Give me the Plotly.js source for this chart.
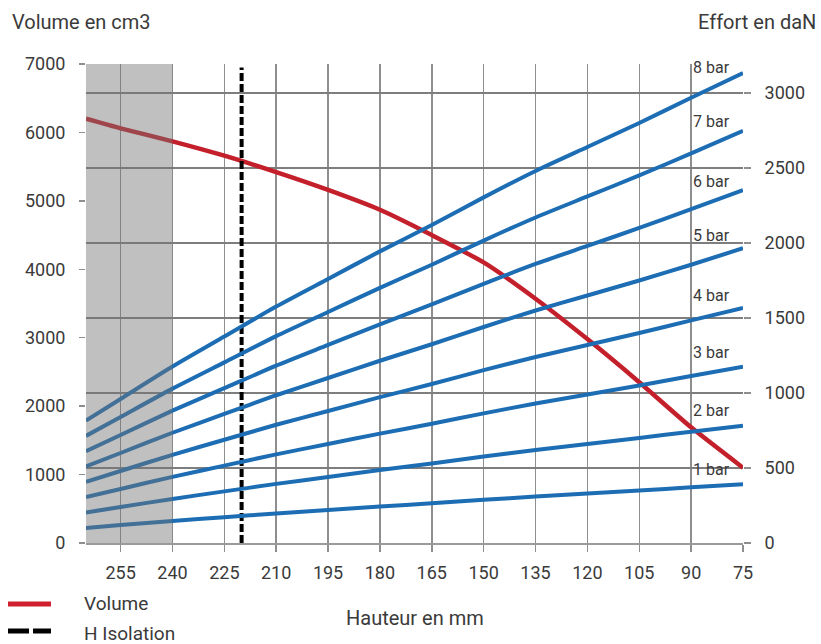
<!DOCTYPE html>
<html>
<head>
<meta charset="utf-8">
<script src="https://cdn.plot.ly/plotly-3.0.1.min.js"></script>
<style>html,body{margin:0;padding:0;background:#fff;}#chart{width:821px;height:644px;}</style>
</head>
<body>
<div id="chart"></div>
<script>
// Heights (mm), reversed axis
const heights = [265, 255, 240, 225, 210, 195, 180, 165, 150, 135, 120, 105, 90, 75];
// Volume (cm3), left axis
const volume = [6200, 6060, 5870, 5660, 5420, 5160, 4870, 4500, 4100, 3570, 2980, 2350, 1690, 1100];
// Effort (daN) per pressure, right axis
const effort1bar = [100, 120, 147, 172, 197, 220, 243, 265, 288, 310, 330, 350, 371, 392];
const effort2bar = [204, 240, 294, 344, 394, 440, 486, 530, 576, 620, 660, 700, 742, 782];
const effort3bar = [306, 360, 441, 516, 591, 660, 729, 795, 864, 930, 990, 1050, 1113, 1175];
const effort4bar = [408, 480, 588, 688, 788, 880, 972, 1060, 1152, 1240, 1320, 1400, 1484, 1567];
const effort5bar = [510, 600, 735, 860, 985, 1100, 1215, 1325, 1440, 1550, 1650, 1750, 1855, 1965];
const effort6bar = [612, 720, 882, 1032, 1182, 1320, 1458, 1590, 1728, 1860, 1980, 2100, 2226, 2352];
const effort7bar = [714, 840, 1029, 1204, 1379, 1540, 1701, 1855, 2016, 2170, 2310, 2450, 2597, 2747];
const effort8bar = [816, 960, 1176, 1376, 1576, 1760, 1944, 2120, 2304, 2480, 2640, 2800, 2968, 3133];
const barLabels = ['1 bar', '2 bar', '3 bar', '4 bar', '5 bar', '6 bar', '7 bar', '8 bar'];
const isolationX = [220, 220];
const isolationY = [0, 6950];
const xTicks = [255, 240, 225, 210, 195, 180, 165, 150, 135, 120, 105, 90, 75];
const leftTicks = [0, 1000, 2000, 3000, 4000, 5000, 6000, 7000];
const rightTicks = [0, 500, 1000, 1500, 2000, 2500, 3000];
const greyZone = [265, 240];

const effortSeries = [effort1bar, effort2bar, effort3bar, effort4bar, effort5bar, effort6bar, effort7bar, effort8bar];
const FONT = 'Roboto, "DejaVu Sans", sans-serif';
const TXT = '#3a3a3a';
const BLUE = '#1c6db3';
const RED = '#c4202c';

const traces = effortSeries.map((ys, i) => ({
  x: heights, y: ys, yaxis: 'y2', type: 'scatter', mode: 'lines',
  name: barLabels[i], showlegend: false,
  line: {color: BLUE, width: 4, shape: 'spline', smoothing: 0.6},
  hoverinfo: 'skip'
}));
traces.push({
  x: heights, y: volume, yaxis: 'y', type: 'scatter', mode: 'lines',
  name: 'Volume', showlegend: false,
  line: {color: RED, width: 4.5, shape: 'spline', smoothing: 0.6},
  hoverinfo: 'skip'
});
traces.push({
  x: isolationX, y: isolationY, yaxis: 'y', type: 'scatter', mode: 'lines',
  name: 'H Isolation', showlegend: false,
  line: {color: '#000', width: 4, dash: '8px,3px'},
  hoverinfo: 'skip'
});

// label y positions (on right axis) near the right end of each curve
const labelY = [493, 880, 1267, 1653, 2053, 2413, 2807, 3167];

const annotations = barLabels.map((t, i) => ({
  text: t, xref: 'x', yref: 'y2', x: 84, y: labelY[i],
  showarrow: false, xanchor: 'center', yanchor: 'middle',
  font: {family: FONT, size: 16, color: TXT}
}));
annotations.push(
  {text: 'Volume en cm3', xref: 'paper', yref: 'paper', x: -0.1157, y: 1.0877,
   xanchor: 'left', yanchor: 'middle', showarrow: false, font: {family: FONT, size: 20, color: TXT}},
  {text: 'Effort en daN', xref: 'paper', yref: 'paper', x: 1.1142, y: 1.0877,
   xanchor: 'right', yanchor: 'middle', showarrow: false, font: {family: FONT, size: 20, color: TXT}},
  {text: 'Hauteur en mm', xref: 'paper', yref: 'paper', x: 0.5, y: -0.1566,
   xanchor: 'center', yanchor: 'middle', showarrow: false, font: {family: FONT, size: 20, color: TXT}},
  {text: 'Volume', xref: 'paper', yref: 'paper', x: -0.0061, y: -0.1273,
   xanchor: 'left', yanchor: 'middle', showarrow: false, font: {family: FONT, size: 19, color: TXT}},
  {text: 'H Isolation', xref: 'paper', yref: 'paper', x: -0.0061, y: -0.1879,
   xanchor: 'left', yanchor: 'middle', showarrow: false, font: {family: FONT, size: 19, color: TXT}}
);

const shapes = [
  {type: 'rect', xref: 'x', yref: 'paper', x0: greyZone[0], x1: greyZone[1], y0: 0, y1: 1,
   fillcolor: 'rgba(115,115,115,0.45)', line: {width: 0}, layer: 'above'},
  {type: 'line', xref: 'paper', yref: 'paper', x0: -0.1187, x1: -0.0533, y0: -0.1273, y1: -0.1273,
   line: {color: '#d0202e', width: 5}},
  {type: 'line', xref: 'paper', yref: 'paper', x0: -0.1187, x1: -0.0533, y0: -0.1837, y1: -0.1837,
   line: {color: '#000', width: 5, dash: '21px,4px'}}
];

const layout = {
  width: 821, height: 644,
  margin: {l: 86, r: 78, t: 64, b: 101},
  paper_bgcolor: '#fff', plot_bgcolor: '#fff',
  showlegend: false,
  font: {family: FONT, color: TXT},
  xaxis: {
    range: [265, 75], tickvals: xTicks, ticktext: xTicks.map(String),
    showgrid: true, gridcolor: '#8e8e8e', gridwidth: 1.5,
    zeroline: false, showline: true, linecolor: '#9a9a9a', linewidth: 1.5,
    ticks: 'outside', ticklen: 7, tickcolor: '#8e8e8e', tickwidth: 1.5,
    ticklabelstandoff: 6,
    tickfont: {family: FONT, size: 18, color: TXT}
  },
  yaxis: {
    range: [0, 7000], tickvals: leftTicks, ticktext: leftTicks.map(String),
    showgrid: false, zeroline: false, showline: false,
    ticks: 'outside', ticklen: 6, tickcolor: '#8e8e8e', tickwidth: 1.5,
    ticklabelstandoff: 10,
    tickfont: {family: FONT, size: 18, color: TXT}
  },
  yaxis2: {
    range: [0, 3193], tickvals: rightTicks, ticktext: rightTicks.map(String),
    overlaying: 'y', side: 'right',
    showgrid: true, gridcolor: '#7e7e7e', gridwidth: 1.5,
    zeroline: false, showline: false,
    ticks: 'outside', ticklen: 7, tickcolor: '#8e8e8e', tickwidth: 1.5,
    ticklabelstandoff: 10,
    tickfont: {family: FONT, size: 18, color: TXT}
  },
  shapes: shapes,
  annotations: annotations
};

Plotly.newPlot('chart', traces, layout, {displayModeBar: false, staticPlot: true});
</script>
</body>
</html>
